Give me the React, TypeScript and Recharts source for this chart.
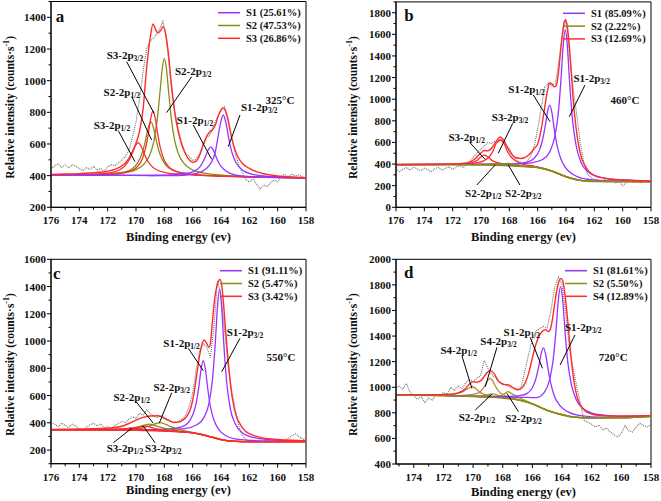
import React from "react";
import { LineChart, Line, XAxis, YAxis, ReferenceLine, ReferenceDot, ReferenceArea } from "recharts";

type Pt = [number, number];

const FONT = '"Liberation Serif", "Times New Roman", serif';
const PURPLE = "#9933ff";
const OLIVE = "#8b8b1a";
const OLIVE2 = "#9c9c2c";
const RED = "#ff2b2b";
const BROWN = "#b98a45";
const GREY = "#6e6e6e";

// ---- ticks ----
const abXMajor = [176, 174, 172, 170, 168, 166, 164, 162, 160, 158];
const abXMinor = [175, 173, 171, 169, 167, 165, 163, 161, 159];
const dXMajor = [174, 172, 170, 168, 166, 164, 162, 160, 158];
const dXMinor = [175, 173, 171, 169, 167, 165, 163, 161, 159];
const aYMajor = [200, 400, 600, 800, 1000, 1200, 1400];
const aYMinor = [300, 500, 700, 900, 1100, 1300, 1500];
const bYMajor = [0, 200, 400, 600, 800, 1000, 1200, 1400, 1600, 1800];
const bYMinor = [100, 300, 500, 700, 900, 1100, 1300, 1500, 1700, 1900];
const cYMajor = [200, 400, 600, 800, 1000, 1200, 1400, 1600];
const cYMinor = [100, 300, 500, 700, 900, 1100, 1300, 1500];
const dYMajor = [400, 600, 800, 1000, 1200, 1400, 1600, 1800, 2000];
const dYMinor = [500, 700, 900, 1100, 1300, 1500, 1700, 1900];

// ---- legends ----
const aLegend = ["S1 (25.61%)", "S2 (47.53%)", "S3 (26.86%)"];
const bLegend = ["S1 (85.09%)", "S2 (2.22%)", "S3 (12.69%)"];
const cLegend = ["S1 (91.11%)", "S2 (5.47%)", "S3 (3.42%)"];
const dLegend = ["S1 (81.61%)", "S2 (5.50%)", "S4 (12.89%)"];

// ---- panel a (325 C) ----
const aRaw: Pt[] = [[176,440],[175.75,462],[175.5,475],[175.25,452],[175,468],[174.75,450],[174.5,470],[174.25,458],[174,445],[173.75,432],[173.5,450],[173.25,440],[173,458],[172.75,436],[172.5,445],[172.25,428],[172,455],[171.75,470],[171.5,462],[171.25,478],[171,500],[170.75,520],[170.5,560],[170.25,640],[170,740],[169.75,880],[169.5,1060],[169.25,1200],[169,1250],[168.75,1270],[168.5,1300],[168.25,1340],[168.1,1375],[167.9,1300],[167.75,1180],[167.5,950],[167.25,800],[167,690],[166.75,600],[166.5,545],[166.25,520],[166,495],[165.75,505],[165.5,540],[165.25,590],[165,640],[164.75,660],[164.5,720],[164.25,770],[164,810],[163.75,835],[163.5,760],[163.25,640],[163,540],[162.75,470],[162.5,420],[162.25,375],[162,360],[161.75,378],[161.5,350],[161.25,315],[161,340],[160.75,330],[160.5,355],[160.25,372],[160,360],[159.75,395],[159.5,408],[159.25,390],[159,410],[158.75,398],[158.5,405],[158.25,392],[158,388]];
const aEnv: Pt[] = [[176,408],[175,410],[174,413],[173,418],[172,428],[171.5,440],[171,462],[170.75,480],[170.5,510],[170.25,552],[170,605],[169.75,680],[169.5,820],[169.25,1080],[169,1270],[168.8,1358],[168.65,1330],[168.45,1300],[168.25,1318],[168.07,1341],[167.9,1290],[167.7,1160],[167.5,975],[167.25,790],[167,670],[166.75,590],[166.5,535],[166.25,500],[166,484],[165.75,492],[165.5,530],[165.25,598],[165,650],[164.8,676],[164.6,690],[164.4,720],[164.2,775],[164,815],[163.85,828],[163.7,812],[163.5,750],[163.25,640],[163,560],[162.75,510],[162.5,478],[162,446],[161.5,425],[161,412],[160.5,404],[160,398],[159,391],[158,386]];
const aS1p12: Pt[] = [[176,405],[172,403],[169,401],[167.5,404],[167,410],[166.5,415],[166,424],[165.5,454],[165.25,491],[165,542],[164.85,571],[164.73,580],[164.6,571],[164.45,542],[164.3,508],[164.1,472],[163.8,440],[163.5,421],[163,405],[162.2,395],[160.5,389],[158,386]];
const aS1p32: Pt[] = [[176,405],[172,403],[169,401],[167.5,400],[166.5,404],[165.8,412],[165.1,440],[164.7,481],[164.4,550],[164.24,629],[164.04,728],[163.84,783],[163.64,728],[163.44,629],[163.24,550],[162.94,481],[162.54,439],[161.84,410],[160.8,397],[159,389],[158,386]];
const aS2p12: Pt[] = [[176,405],[174,406],[172,411],[171,420],[170.25,445],[169.85,485],[169.55,547],[169.35,615],[169.15,697],[168.95,741],[168.75,697],[168.55,615],[168.35,547],[168.05,485],[167.65,447],[166.95,420],[165.95,408],[164,398],[161,390],[158,386]];
const aS2p32: Pt[] = [[176,405],[173,408],[171,417],[170,438],[169.4,476],[169,537],[168.75,613],[168.5,755],[168.3,933],[168.15,1074],[168,1141],[167.85,1074],[167.7,933],[167.5,755],[167.25,613],[167,537],[166.6,476],[166,436],[165,413],[163,398],[160,389],[158,386]];
const aS3p12: Pt[] = [[176,405],[173,408],[171.85,418],[171.15,437],[170.75,465],[170.45,505],[170.25,544],[170.05,587],[169.85,608],[169.65,587],[169.45,544],[169.25,505],[168.95,465],[168.55,437],[167.85,418],[166.85,409],[165,400],[162,391],[158,386]];
const aS3p32: Pt[] = [[176,405],[172.8,404],[171.3,412],[170.4,429],[169.9,457],[169.55,507],[169.3,583],[169.1,681],[168.95,767],[168.8,808],[168.65,767],[168.5,681],[168.3,583],[168.05,507],[167.7,457],[167.2,429],[166.3,410],[164.8,400],[161,390],[158,386]];

// ---- panel b (460 C) ----
const bRaw: Pt[] = [[176,360],[175.75,330],[175.5,352],[175.25,368],[175,345],[174.75,372],[174.5,355],[174.25,338],[174,362],[173.75,348],[173.5,330],[173.25,356],[173,370],[172.75,342],[172.5,360],[172.25,376],[172,350],[171.75,372],[171.5,385],[171.25,368],[171,395],[170.75,430],[170.5,470],[170.25,505],[170,540],[169.75,570],[169.5,600],[169.25,590],[169,615],[168.75,605],[168.5,625],[168.25,580],[168,540],[167.75,480],[167.5,440],[167.25,420],[167,410],[166.75,420],[166.5,470],[166.25,560],[166,720],[165.75,920],[165.5,1110],[165.25,1150],[165,1125],[164.75,1140],[164.5,1350],[164.25,1600],[164,1740],[163.75,1420],[163.5,1100],[163.25,870],[163,600],[162.75,420],[162.5,310],[162.25,275],[162,262],[161.75,250],[161.5,240],[161.25,255],[161,232],[160.75,245],[160.5,225],[160.25,238],[160,200],[159.75,228],[159.5,245],[159.25,232],[159,240],[158.75,228],[158.5,242],[158.25,235],[158,230]];
const bEnv: Pt[] = [[176,396],[172,399],[171,410],[170.5,440],[170.1,490],[169.75,525],[169.5,522],[169.2,555],[168.9,615],[168.65,650],[168.4,622],[168.1,545],[167.8,485],[167.5,458],[167.2,452],[167,456],[166.75,472],[166.5,502],[166.25,540],[166,585],[165.75,720],[165.5,925],[165.3,1085],[165.15,1150],[165,1143],[164.85,1115],[164.7,1122],[164.55,1225],[164.4,1420],[164.25,1610],[164.1,1725],[164.03,1733],[163.95,1705],[163.8,1545],[163.65,1290],[163.5,1010],[163.3,745],[163.1,565],[162.9,455],[162.6,372],[162.3,322],[162,296],[161.5,274],[161,262],[160,252],[159,246],[158,243]];
const bBg: Pt[] = [[176,395],[172,395],[170,393],[169,390],[168,385],[167,378],[166,368],[165.5,355],[165,335],[164.5,308],[164,283],[163.5,262],[163,249],[162.5,242],[162,239],[160,238],[158,238]];
const bS1p12: Pt[] = [[176,395],[172,397],[170,396],[168.65,397],[167.65,399],[166.75,417],[166.25,454],[165.9,522],[165.65,627],[165.45,765],[165.3,888],[165.15,945],[165,880],[164.85,742],[164.65,585],[164.4,460],[164.05,370],[163.55,308],[162.65,262],[161.65,249],[160,242],[158,240]];
const bS1p32: Pt[] = [[176,395],[172,397],[170,398],[168.05,400],[166.55,409],[165.65,442],[165.15,512],[164.8,648],[164.55,862],[164.35,1190],[164.2,1496],[164.05,1640],[163.9,1484],[163.75,1166],[163.55,820],[163.3,581],[162.95,419],[162.45,328],[161.55,276],[160.05,253],[158,245]];
const bS2p12: Pt[] = [[176,395],[171,395],[170,397],[169.5,400],[169.1,404],[168.7,398],[168,387],[167,378],[166,368],[165,335],[164,283],[163,249],[162,239],[158,238]];
const bS2p32: Pt[] = [[176,395],[170,393],[169,392],[168.6,396],[168.1,407],[167.6,395],[167,381],[166,369],[165,335],[164,283],[163,249],[162,239],[158,238]];
const bS3p12: Pt[] = [[176,395],[172,397],[171,402],[170.6,415],[170.3,432],[170.1,455],[169.95,470],[169.75,482],[169.55,470],[169.4,455],[169.2,432],[168.9,415],[168.5,402],[168,392],[167,380],[166,369],[165,335],[164,283],[163,249],[162,239],[158,238]];
const bS3p32: Pt[] = [[176,395],[172,397],[171,400],[170.3,412],[169.8,430],[169.4,470],[169.15,520],[168.95,585],[168.8,610],[168.65,625],[168.5,610],[168.35,585],[168.15,520],[167.9,470],[167.5,425],[167,398],[166.2,378],[165.5,358],[165,337],[164,284],[163,249],[162,239],[158,238]];

// ---- panel c (550 C) ----
const cRaw: Pt[] = [[176,405],[175.75,390],[175.5,372],[175.25,398],[175,382],[174.75,365],[174.5,390],[174.25,378],[174,352],[173.75,340],[173.5,368],[173.25,385],[173,398],[172.75,378],[172.5,392],[172.25,365],[172,372],[171.75,350],[171.5,378],[171.25,395],[171,410],[170.75,402],[170.5,428],[170.25,445],[170,430],[169.75,470],[169.5,455],[169.25,495],[169,468],[168.75,448],[168.5,438],[168.25,452],[168,440],[167.75,425],[167.5,410],[167.25,405],[167,410],[166.75,425],[166.5,455],[166.25,520],[166,620],[165.75,790],[165.5,930],[165.25,980],[165,955],[164.75,880],[164.5,1100],[164.25,1440],[164,1340],[163.75,1080],[163.5,820],[163.25,640],[163,500],[162.75,380],[162.5,310],[162.25,275],[162,265],[161.75,272],[161.5,258],[161.25,270],[161,262],[160.75,275],[160.5,260],[160.25,268],[160,255],[159.75,262],[159.5,270],[159.25,285],[159,305],[158.75,320],[158.5,300],[158.25,282],[158,275]];
const cEnv: Pt[] = [[176,352],[172,360],[171,375],[170.5,395],[170,420],[169.5,440],[169,450],[168.5,452],[168.2,445],[168,432],[167.6,412],[167.3,402],[167,405],[166.7,420],[166.4,450],[166.1,520],[165.9,620],[165.7,760],[165.5,900],[165.3,990],[165.2,1008],[165.05,990],[164.85,955],[164.75,985],[164.6,1150],[164.45,1310],[164.3,1400],[164.15,1445],[164.07,1453],[163.95,1410],[163.85,1310],[163.7,1110],[163.5,860],[163.3,655],[163.1,525],[162.9,445],[162.6,382],[162.3,342],[162,320],[161.5,300],[161,288],[160,278],[159,272],[158,268]];
const cBg: Pt[] = [[176,350],[172,348],[170,346],[168,340],[167,335],[166,326],[165.5,318],[165,305],[164.5,290],[164,277],[163.5,268],[163,264],[162,262],[158,262]];
const cS1p12: Pt[] = [[176,350],[172,349],[169.25,350],[167.75,353],[166.85,368],[166.35,397],[166,457],[165.75,544],[165.55,677],[165.4,799],[165.25,857],[165.1,793],[164.95,663],[164.75,520],[164.5,421],[164.15,350],[163.65,305],[162.75,278],[161.25,268],[158,265]];
const cS1p32: Pt[] = [[176,350],[172,349],[170,348],[168.1,351],[166.6,358],[165.7,386],[165.2,440],[164.85,542],[164.6,721],[164.4,990],[164.25,1250],[164.1,1379],[163.95,1243],[163.8,976],[163.6,698],[163.35,508],[163,393],[162.5,328],[161.6,290],[160.1,273],[158,267]];
const cS2p12: Pt[] = [[176,350],[172,351],[171,354],[170.3,360],[169.8,372],[169.4,383],[169.05,390],[168.7,382],[168.3,368],[167.8,355],[167,340],[166,327],[165,305],[164,277],[163,264],[162,262],[158,262]];
const cS2p32: Pt[] = [[176,350],[172,350],[170.5,353],[169.6,362],[169.1,375],[168.7,390],[168.3,402],[167.9,388],[167.5,370],[167,352],[166.3,336],[165.5,318],[165,305],[164,277],[163,264],[162,262],[158,262]];
const cS3p12: Pt[] = [[176,350],[172,350],[171.2,353],[170.7,358],[170.35,362],[170,358],[169.5,352],[168.5,343],[168,340],[167,335],[166,326],[165,305],[164,277],[163,264],[162,262],[158,262]];
const cS3p32: Pt[] = [[176,350],[172,350],[170.6,354],[170,362],[169.7,370],[169.35,377],[169,368],[168.6,356],[168,345],[167,336],[166,326],[165,305],[164,277],[163,264],[162,262],[158,262]];

// ---- panel d (720 C) ----
const dRaw: Pt[] = [[175.2,990],[175,1010],[174.75,985],[174.5,1030],[174.25,960],[174,935],[173.75,905],[173.5,925],[173.25,880],[173,915],[172.75,900],[172.5,945],[172.25,930],[172,960],[171.75,945],[171.5,1000],[171.25,975],[171,1010],[170.75,990],[170.5,1035],[170.25,1060],[170,1045],[169.75,1070],[169.5,1090],[169.25,1210],[169,1150],[168.75,1100],[168.5,1075],[168.25,1040],[168,1030],[167.75,1015],[167.5,1000],[167.25,990],[167,975],[166.75,1005],[166.5,1130],[166.25,1260],[166,1380],[165.75,1440],[165.5,1460],[165.25,1475],[165,1465],[164.75,1600],[164.5,1780],[164.25,1860],[164,1800],[163.75,1580],[163.5,1300],[163.25,1150],[163,1000],[162.75,860],[162.5,740],[162.25,725],[162,710],[161.75,690],[161.5,705],[161.25,665],[161,680],[160.75,650],[160.5,630],[160.25,610],[160,640],[159.75,700],[159.5,660],[159.25,650],[159,690],[158.75,720],[158.5,700],[158.25,690],[158,710]];
const dEnv: Pt[] = [[175.2,942],[173,940],[171.5,945],[171,955],[170.5,990],[170.25,1025],[170,1042],[169.75,1040],[169.5,1050],[169.25,1085],[169,1120],[168.85,1130],[168.6,1110],[168.35,1060],[168.1,1030],[167.85,1020],[167.6,1018],[167.35,1000],[167.1,985],[166.9,982],[166.7,995],[166.5,1030],[166.25,1110],[166,1230],[165.75,1340],[165.5,1410],[165.25,1445],[165.1,1450],[164.95,1435],[164.8,1450],[164.65,1530],[164.5,1650],[164.35,1760],[164.2,1830],[164.08,1851],[163.95,1830],[163.8,1720],[163.6,1500],[163.4,1240],[163.2,1050],[163,930],[162.75,860],[162.5,820],[162,790],[161.5,780],[161,776],[160,775],[159,776],[158,778]];
const dBg: Pt[] = [[175.2,940],[172,935],[170,927],[168,915],[167,903],[166.5,890],[166,870],[165.5,845],[165,820],[164.5,800],[164,785],[163.5,772],[163,765],[162,760],[160,762],[158,772]];
const dS1p12: Pt[] = [[175.2,940],[172,936],[170,928],[169.25,928],[167.75,927],[166.85,934],[166.35,952],[166,996],[165.75,1072],[165.55,1176],[165.4,1268],[165.25,1308],[165.1,1254],[164.95,1146],[164.75,1024],[164.5,926],[164.15,858],[163.65,811],[162.75,778],[161.25,766],[158,774]];
const dS1p32: Pt[] = [[175.2,940],[172,936],[170,928],[168.1,926],[166.6,920],[165.7,919],[165.2,959],[164.85,1054],[164.6,1214],[164.4,1456],[164.25,1680],[164.1,1786],[163.95,1672],[163.8,1438],[163.6,1184],[163.35,1010],[163,892],[162.5,827],[161.6,787],[160.1,773],[158,777]];
const dS2p12: Pt[] = [[175.2,940],[172,936],[170.5,932],[169.6,932],[169.2,936],[168.7,948],[168.2,930],[167.7,915],[167,903],[166,870],[165,820],[164,785],[163,765],[162,760],[160,762],[158,772]];
const dS2p32: Pt[] = [[175.2,940],[170,928],[168.8,922],[168.2,930],[167.9,948],[167.65,965],[167.4,950],[167,925],[166.5,898],[166,872],[165,820],[164,785],[163,765],[162,760],[160,762],[158,772]];
const dS4p12: Pt[] = [[175.2,941],[172.5,938],[171.6,942],[171.15,950],[170.8,960],[170.55,975],[170.35,990],[170.2,998],[170.05,1004],[169.9,997],[169.75,982],[169.55,962],[169.3,946],[168.95,935],[168.45,925],[167.55,914],[166,870],[165,820],[164,785],[163,765],[162,760],[160,762],[158,772]];
const dS4p32: Pt[] = [[175.2,941],[172.5,936],[171.35,934],[170.45,939],[169.95,946],[169.6,958],[169.35,987],[169.15,1023],[169,1055],[168.85,1070],[168.7,1053],[168.55,1019],[168.35,980],[168.1,950],[167.75,930],[167.25,912],[166.35,884],[165,820],[164,785],[163,765],[162,760],[160,762],[158,772]];

type Note = { t: string; s?: string; x: number; y: number; l?: [number, number, number, number] };

const aNotes: Note[] = [
  { t: "S3-2p", s: "3/2", x: 170.78, y: 1162, l: [170.66, 1120, 168.73, 794] },
  { t: "S2-2p", s: "1/2", x: 171.0, y: 930, l: [170.3, 899, 168.9, 625] },
  { t: "S3-2p", s: "1/2", x: 171.7, y: 720, l: [171.25, 684, 170.07, 488] },
  { t: "S2-2p", s: "3/2", x: 165.96, y: 1063, l: [166.07, 1025, 167.84, 798] },
  { t: "S1-2p", s: "1/2", x: 165.84, y: 752, l: [165.96, 720, 164.66, 503] },
  { t: "S1-2p", s: "3/2", x: 161.3, y: 836, l: [162.66, 783, 163.49, 583] },
  { t: "325°C", x: 159.84, y: 878 },
];
const bNotes: Note[] = [
  { t: "S1-2p", s: "1/2", x: 166.78, y: 1091, l: [166.31, 1039, 165.13, 792] },
  { t: "S1-2p", s: "3/2", x: 162.19, y: 1193, l: [162.66, 1131, 163.77, 838] },
  { t: "S3-2p", s: "3/2", x: 167.95, y: 832, l: [167.76, 777, 168.78, 500] },
  { t: "S3-2p", s: "1/2", x: 171.01, y: 653, l: [170.78, 598, 169.72, 444] },
  { t: "S2-2p", s: "1/2", x: 169.84, y: 135, l: [170.3, 206, 169.0, 391] },
  { t: "S2-2p", s: "3/2", x: 167.01, y: 135, l: [167.25, 206, 168.07, 391] },
  { t: "460°C", x: 159.84, y: 993 },
];
const cNotes: Note[] = [
  { t: "S1-2p", s: "1/2", x: 166.78, y: 984, l: [166.31, 947, 165.25, 783] },
  { t: "S1-2p", s: "3/2", x: 162.31, y: 1069, l: [162.66, 1020, 163.95, 775] },
  { t: "S2-2p", s: "3/2", x: 167.48, y: 665, l: [167.48, 621, 168.36, 397] },
  { t: "S2-2p", s: "1/2", x: 170.3, y: 592, l: [170.0, 555, 168.78, 397] },
  { t: "S3-2p", s: "1/2", x: 170.78, y: 213, l: [171.6, 254, 170.3, 360] },
  { t: "S3-2p", s: "3/2", x: 168.07, y: 213, l: [168.66, 254, 169.49, 377] },
  { t: "550°C", x: 159.77, y: 885 },
];
const dNotes: Note[] = [
  { t: "S1-2p", s: "1/2", x: 166.71, y: 1434, l: [166.15, 1390, 165.32, 1148] },
  { t: "S1-2p", s: "3/2", x: 162.57, y: 1474, l: [163.13, 1408, 164.13, 1174] },
  { t: "S4-2p", s: "1/2", x: 170.97, y: 1291, l: [170.75, 1244, 170.08, 991] },
  { t: "S4-2p", s: "3/2", x: 168.28, y: 1364, l: [168.39, 1312, 169.18, 1004] },
  { t: "S2-2p", s: "1/2", x: 169.74, y: 770, l: [169.85, 822, 168.73, 947] },
  { t: "S2-2p", s: "3/2", x: 166.6, y: 757, l: [166.94, 809, 167.72, 952] },
  { t: "720°C", x: 160.55, y: 1239 },
];

type Series = { pts: Pt[]; color: string; w: number; raw?: boolean };
type Cfg = {
  left: number; top: number; w: number; h: number;
  mt: number; mr: number; yW: number; xH: number;
  xDomain: [number, number]; yDomain: [number, number];
  xMajor: number[]; xMinor: number[]; yMajor: number[]; yMinor: number[];
  series: Series[]; notes: Note[];
  letter: string; letterAt: [number, number];
  legend: string[]; legendColors: string[]; legX: number; legY: number;
  yTitleX: number; xTitleDy: number;
};

const raw = (pts: Pt[]): Series => ({ pts, color: GREY, w: 1.1, raw: true });
const s = (pts: Pt[], color: string, w = 1.3): Series => ({ pts, color, w });

// x domains are given low..high; the axis is drawn reversed (high energy on the left)
const panels: Cfg[] = [
  {
    left: 0, top: 0, w: 330, h: 250, mt: 1.5, mr: 24, yW: 51, xH: 42.7,
    xDomain: [158, 176], yDomain: [200, 1500],
    xMajor: abXMajor, xMinor: abXMinor, yMajor: aYMajor, yMinor: aYMinor,
    series: [raw(aRaw), s(aS2p12, OLIVE), s(aS2p32, OLIVE), s(aS3p12, RED), s(aS3p32, RED), s(aS1p12, PURPLE), s(aS1p32, PURPLE), s(aEnv, RED, 1.4)],
    notes: aNotes, letter: "a", letterAt: [175.36, 1405],
    legend: aLegend, legendColors: [PURPLE, OLIVE, RED], legX: 218, legY: 12.7,
    yTitleX: 10, xTitleDy: 29.4,
  },
  {
    left: 330, top: 0, w: 331, h: 250, mt: 1.9, mr: 10, yW: 66, xH: 42.7,
    xDomain: [158, 176], yDomain: [0, 1900],
    xMajor: abXMajor, xMinor: abXMinor, yMajor: bYMajor, yMinor: bYMinor,
    series: [raw(bRaw), s(bS3p12, RED), s(bS3p32, RED), s(bS1p12, PURPLE), s(bS1p32, PURPLE), s(bS2p12, OLIVE), s(bS2p32, OLIVE), s(bBg, OLIVE, 1.5), s(bEnv, RED, 1.4)],
    notes: bNotes, letter: "b", letterAt: [175.08, 1775],
    legend: bLegend, legendColors: [PURPLE, OLIVE, RED], legX: 233, legY: 13.3,
    yTitleX: 23, xTitleDy: 29.4,
  },
  {
    left: 0, top: 250, w: 330, h: 251, mt: 9.3, mr: 24, yW: 51, xH: 37.3,
    xDomain: [158, 176], yDomain: [100, 1600],
    xMajor: abXMajor, xMinor: abXMinor, yMajor: cYMajor, yMinor: cYMinor,
    series: [raw(cRaw), s(cS1p12, PURPLE), s(cS1p32, PURPLE), s(cS2p12, OLIVE), s(cS2p32, OLIVE), s(cS3p12, RED), s(cS3p32, RED), s(cBg, RED, 1.5), s(cEnv, RED, 1.4)],
    notes: cNotes, letter: "c", letterAt: [175.6, 1497],
    legend: cLegend, legendColors: [PURPLE, OLIVE, RED], legX: 220, legY: 20.7,
    yTitleX: 10, xTitleDy: 26.5,
  },
  {
    left: 330, top: 250, w: 331, h: 251, mt: 9.3, mr: 10, yW: 66, xH: 37,
    xDomain: [158, 175.2], yDomain: [400, 2000],
    xMajor: dXMajor, xMinor: dXMinor, yMajor: dYMajor, yMinor: dYMinor,
    series: [raw(dRaw), s(dS4p12, BROWN), s(dS4p32, BROWN), s(dS2p12, OLIVE2), s(dS2p32, OLIVE2), s(dS1p12, PURPLE), s(dS1p32, PURPLE), s(dBg, OLIVE, 1.5), s(dEnv, RED, 1.4)],
    notes: dNotes, letter: "d", letterAt: [174.34, 1893],
    legend: dLegend, legendColors: [PURPLE, OLIVE, RED], legX: 235, legY: 20.7,
    yTitleX: 23, xTitleDy: 27.7,
  },
];

const txt = { fontFamily: FONT, fontWeight: "bold" as const, fill: "#111" };

function noteText(n: Note, cx: number, cy: number) {
  return (
    <text x={cx} y={cy} textAnchor="middle" dominantBaseline="central" fontSize={11} {...txt}>
      {n.t}
      {n.s ? <tspan fontSize={7.5} dy={3}>{n.s}</tspan> : null}
    </text>
  );
}

function Panel({ c }: { c: Cfg }) {
  const xt = [...c.xMajor, ...c.xMinor].sort((p, q) => q - p);
  const yt = [...c.yMajor, ...c.yMinor].sort((p, q) => p - q);
  const plotL = c.yW;
  const plotR = c.w - c.mr;
  const plotB = c.h - c.xH;

  const xTick = (p: any) => {
    const v = p.payload.value;
    const major = c.xMajor.includes(v);
    return (
      <g>
        <line x1={p.x} x2={p.x} y1={p.y} y2={p.y + (major ? 4 : 2.5)} stroke="#000" />
        {major && (
          <text x={p.x} y={p.y + 13} textAnchor="middle" dominantBaseline="central" fontSize={11} {...txt}>
            {v}
          </text>
        )}
      </g>
    );
  };
  const yTick = (p: any) => {
    const v = p.payload.value;
    const major = c.yMajor.includes(v);
    return (
      <g>
        <line x1={p.x - (major ? 4 : 2.5)} x2={p.x} y1={p.y} y2={p.y} stroke="#000" />
        {major && (
          <text x={p.x - 5} y={p.y} textAnchor="end" dominantBaseline="central" fontSize={11} {...txt}>
            {v}
          </text>
        )}
      </g>
    );
  };

  return (
    <div style={{ position: "absolute", left: c.left, top: c.top, width: c.w, height: c.h }}>
      <LineChart width={c.w} height={c.h} margin={{ top: c.mt, right: c.mr, left: 0, bottom: 0 }}>
        <XAxis type="number" dataKey="e" domain={c.xDomain} reversed allowDataOverflow ticks={xt} interval={0}
          tick={xTick} tickSize={0} tickMargin={0} height={c.xH} axisLine={{ stroke: "#000" }} />
        <YAxis type="number" dataKey="v" domain={c.yDomain} allowDataOverflow ticks={yt} interval={0}
          tick={yTick} tickSize={0} tickMargin={0} width={c.yW} axisLine={{ stroke: "#000" }} />
        <ReferenceArea x1={c.xDomain[0]} x2={c.xDomain[1]} y1={c.yDomain[0]} y2={c.yDomain[1]}
          fill="none" fillOpacity={0} stroke="#000" strokeWidth={1} ifOverflow="visible" />
        {c.series.map((sr, i) => (
          <Line key={i} data={sr.pts.map(([e, v]) => ({ e, v }))} dataKey="v"
            type={sr.raw ? "linear" : "monotone"} stroke={sr.color} strokeWidth={sr.w}
            strokeDasharray={sr.raw ? "1 1" : undefined} dot={false} activeDot={false}
            isAnimationActive={false} />
        ))}
        {c.notes.filter((n) => n.l).map((n, i) => (
          <ReferenceLine key={"l" + i} segment={[{ x: n.l![0], y: n.l![1] }, { x: n.l![2], y: n.l![3] }]}
            stroke="#000" strokeWidth={1} ifOverflow="visible" />
        ))}
        {c.notes.map((n, i) => (
          <ReferenceDot key={"t" + i} x={n.x} y={n.y} r={0} ifOverflow="visible"
            shape={(p: any) => noteText(n, p.cx, p.cy)} />
        ))}
        <ReferenceDot x={c.letterAt[0]} y={c.letterAt[1]} r={0} ifOverflow="visible"
          shape={(p: any) => (
            <text x={p.cx} y={p.cy} textAnchor="middle" dominantBaseline="central" fontSize={17} {...txt}>
              {c.letter}
            </text>
          )} />
      </LineChart>
      <svg width={c.w} height={c.h} style={{ position: "absolute", left: 0, top: 0, pointerEvents: "none" }}>
        {c.legend.map((name, i) => (
          <g key={i}>
            <line x1={c.legX} x2={c.legX + 22} y1={c.legY + i * 12.8} y2={c.legY + i * 12.8}
              stroke={c.legendColors[i]} strokeWidth={1.5} />
            <text x={c.legX + 28} y={c.legY + i * 12.8} dominantBaseline="central" fontSize={10.5} {...txt}>
              {name}
            </text>
          </g>
        ))}
        <text x={(plotL + plotR) / 2} y={plotB + c.xTitleDy} textAnchor="middle" dominantBaseline="central"
          fontSize={12.5} {...txt}>
          Binding energy (ev)
        </text>
        <text transform={`translate(${c.yTitleX}, ${(c.mt + plotB) / 2 + 3}) rotate(-90)`} textAnchor="middle"
          dominantBaseline="central" fontSize={11.5} {...txt}>
          Relative intensity (counts·s<tspan fontSize={8} dy={-4}>-1</tspan><tspan dy={4}>)</tspan>
        </text>
      </svg>
    </div>
  );
}

export default function App() {
  return (
    <div style={{ position: "absolute", left: 0, top: 0, width: 661, height: 501, background: "#fff" }}>
      {panels.map((c, i) => (
        <Panel key={i} c={c} />
      ))}
    </div>
  );
}
